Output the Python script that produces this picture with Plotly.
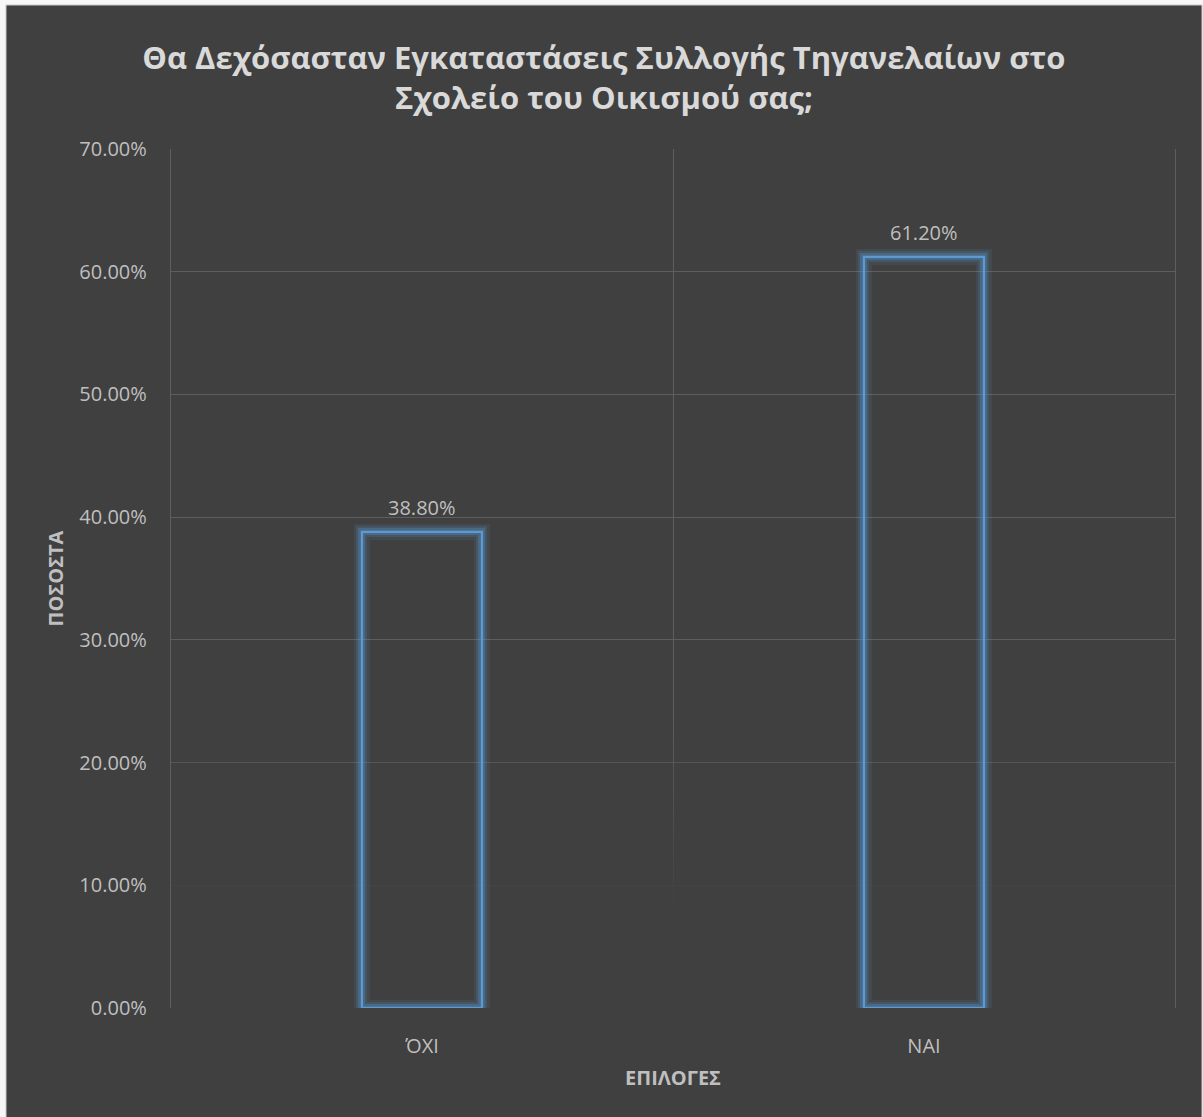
import plotly.graph_objects as go

# Survey answers and their shares
categories = ["ΌΧΙ", "ΝΑΙ"]
shares = [0.388, 0.612]
y_ticks = [0.0, 0.1, 0.2, 0.3, 0.4, 0.5, 0.6, 0.7]

title_text = ("<b>Θα Δεχόσασταν Εγκαταστάσεις Συλλογής Τηγανελαίων στο<br>"
              "Σχολείο του Οικισμού σας;</b>")

W, H = 1203, 1117
ML, MR, MT, MB = 171, 28, 149, 109
PW, PH = W - ML - MR, H - MT - MB

BG = "#404040"
GRID = "#5e5e5e"
TXT = "#bfbfbf"
BLUE = "#5b9bd5"
FONT = "Open Sans"

x_pos = [i + 0.5 for i in range(len(categories))]
x_range = [0, len(categories)]
y_range = [y_ticks[0], y_ticks[-1]]

fig = go.Figure()

# soft fade of the gridlines towards the baseline
fade_top = y_ticks[2] + 0.04
fig.add_trace(go.Scatter(
    x=[x_range[0], x_range[1], x_range[1], x_range[0], x_range[0]],
    y=[y_ticks[0], y_ticks[0], fade_top, fade_top, y_ticks[0]],
    mode="lines", line=dict(width=0), fill="toself",
    fillgradient=dict(type="vertical",
                      colorscale=[[0, "rgba(64,64,64,1)"], [0.32, "rgba(64,64,64,1)"],
                                  [1, "rgba(64,64,64,0)"]],
                      start=y_ticks[0], stop=fade_top),
    hoverinfo="skip", showlegend=False, xaxis="x", yaxis="y"))

# glow around the outlined bars
for w, a in [(16, 0.10), (11, 0.16), (7, 0.28)]:
    fig.add_trace(go.Bar(
        x=x_pos, y=shares, width=0.24,
        marker=dict(color="rgba(0,0,0,0)", line=dict(color=f"rgba(91,155,213,{a})", width=w)),
        hoverinfo="skip", showlegend=False, xaxis="x2", yaxis="y2"))

fig.add_trace(go.Bar(
    x=x_pos, y=shares, width=0.24,
    marker=dict(color="rgba(0,0,0,0)", line=dict(color=BLUE, width=2.2)),
    showlegend=False, xaxis="x2", yaxis="y2"))

# value labels above the bars
for xp, v in zip(x_pos, shares):
    fig.add_annotation(x=xp, y=v, xref="x2", yref="y2", text=f"{v:.2%}",
                       showarrow=False, yanchor="bottom", yshift=9,
                       font=dict(family=FONT, size=20, color=TXT))

# dark chart panel on a light page edge
def px_to_paper_x(px):
    return (px - ML) / PW

def px_to_paper_y(py):
    return (H - MB - py) / PH

fig.add_shape(type="rect", xref="paper", yref="paper", layer="below",
              x0=px_to_paper_x(6), x1=px_to_paper_x(1202),
              y0=px_to_paper_y(H + 5), y1=px_to_paper_y(5),
              fillcolor=BG, line=dict(color="#c9c9c9", width=1))

fig.update_layout(
    width=W, height=H,
    margin=dict(l=ML, r=MR, t=MT, b=MB, autoexpand=False),
    paper_bgcolor="#f7f7f7", plot_bgcolor=BG,
    barmode="overlay", bargap=0,
    font=dict(family=FONT, color=TXT),
    title=dict(text=title_text, x=0.502, xanchor="center", xref="container",
               y=1 - 69 / H, yanchor="top", yref="container",
               font=dict(family=FONT, size=31, color="#d9d9d9")),
    xaxis=dict(range=x_range, tickvals=x_pos, ticktext=categories,
               showgrid=False, zeroline=False, showline=False,
               ticks="outside", ticklen=20, tickcolor="rgba(0,0,0,0)",
               tickfont=dict(family=FONT, size=20, color=TXT),
               minor=dict(tickvals=list(range(len(categories) + 1)), showgrid=True,
                          gridcolor=GRID, gridwidth=1.3),
               title=dict(text="<b>ΕΠΙΛΟΓΕΣ</b>", standoff=12,
                          font=dict(family=FONT, size=20, color=TXT)),
               automargin=False, fixedrange=True),
    yaxis=dict(range=y_range, tickvals=y_ticks, tickformat=".2%",
               showgrid=True, gridcolor=GRID, gridwidth=1.3,
               zeroline=False,
               showline=True, mirror=True, linecolor=GRID, linewidth=1.3,
               layer="below traces",
               ticks="outside", ticklen=19, tickcolor="rgba(0,0,0,0)",
               tickfont=dict(family=FONT, size=20, color=TXT),
               title=dict(text="<b>ΠΟΣΟΣΤΑ</b>", standoff=10,
                          font=dict(family=FONT, size=20, color=TXT)),
               automargin=False, fixedrange=True),
    xaxis2=dict(range=x_range, overlaying="x", visible=False, fixedrange=True),
    yaxis2=dict(range=y_range, overlaying="y", visible=False, fixedrange=True),
)

fig.write_html("out.html")
